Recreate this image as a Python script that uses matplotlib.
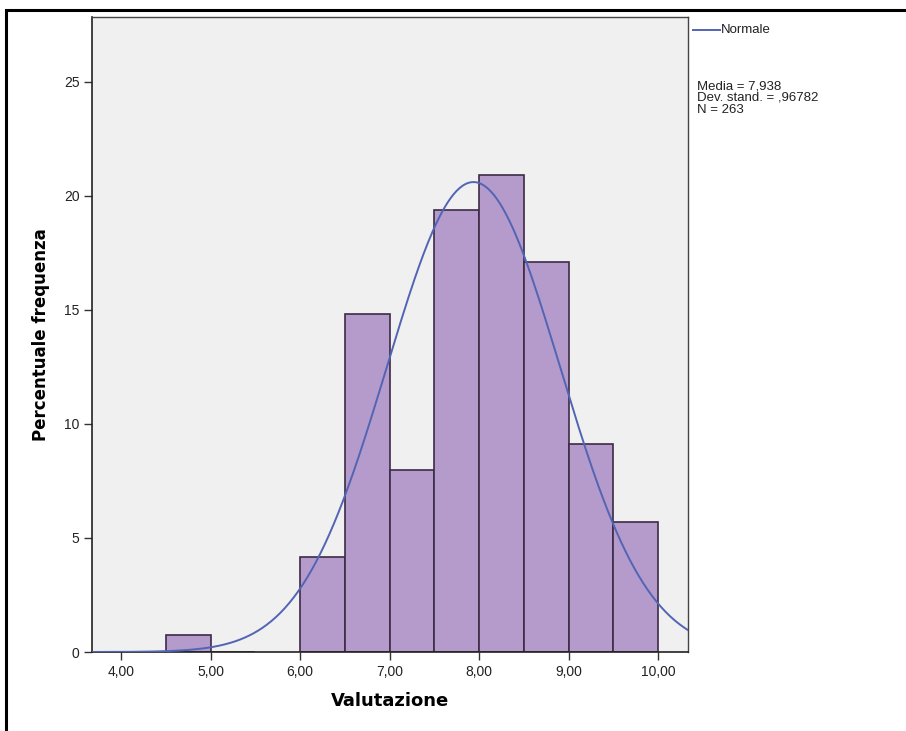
import numpy as np
import matplotlib
matplotlib.use("Agg")
import matplotlib.pyplot as plt
from matplotlib.patches import Rectangle

bin_edges = [4.5, 5.0, 6.0, 6.5, 7.0, 7.5, 8.0, 8.5, 9.0, 9.5]
bin_width = 0.5
percents = [0.76, 0.0, 4.18, 14.83, 7.98, 19.39, 20.91, 17.11, 9.13, 5.70]
mean_val = 7.938
sd_val = 0.96782
n_val = 263
xticks = [4, 5, 6, 7, 8, 9, 10]
xtick_labels = ["4,00", "5,00", "6,00", "7,00", "8,00", "9,00", "10,00"]
yticks = [0, 5, 10, 15, 20, 25]

fig = plt.figure(figsize=(9.06, 7.31), dpi=100)
fig.patch.set_facecolor("white")
# outer frame
fig.patches.append(Rectangle((6/906, -0.05), 1.2, 1 - 10/731 + 0.05, transform=fig.transFigure,
                             fill=False, edgecolor="black", linewidth=2.2, zorder=0))

ax = fig.add_axes([92/906, 1 - 652/731, 596/906, 635/731])
ax.set_facecolor("#F0F0F0")
ax.bar(bin_edges, percents, width=bin_width, align="edge", color="#B49BCB",
       edgecolor="#3B2B45", linewidth=1.2, zorder=2)

xs = np.linspace(3.676, 10.335, 400)
ys = 100 * bin_width * np.exp(-0.5 * ((xs - mean_val) / sd_val) ** 2) / (sd_val * np.sqrt(2 * np.pi))
ax.plot(xs, ys, color="#5264B4", linewidth=1.4, zorder=3)

ax.set_xlim(3.676, 10.335)
ax.set_ylim(0, 27.85)
ax.set_xticks(xticks)
ax.set_xticklabels(xtick_labels)
ax.set_yticks(yticks)
ax.tick_params(direction="out", length=6, width=1, color="#333333", labelsize=10,
               labelcolor="#222222", pad=3)
for lbl in ax.get_xticklabels() + ax.get_yticklabels():
    lbl.set_fontfamily("Liberation Sans")
for side in ["left", "bottom"]:
    ax.spines[side].set_color("#222222")
    ax.spines[side].set_linewidth(1.2)
for side in ["top", "right"]:
    ax.spines[side].set_color("#444444")
    ax.spines[side].set_linewidth(1.0)

ax.set_xlabel("Valutazione", fontsize=13, fontweight="bold", labelpad=10)
ax.set_ylabel("Percentuale frequenza", fontsize=12, fontweight="bold", labelpad=10)

# legend
fig.add_artist(plt.Line2D([693/906, 720/906], [1 - 30/731, 1 - 30/731],
                          color="#5264B4", linewidth=1.4, transform=fig.transFigure))
fig.text(721/906, 1 - 30/731, "Normale", fontsize=9.5, va="center", ha="left",
         color="#222222", family="Liberation Sans")
fig.text(697/906, 1 - 98/731,
         "Media = 7,938\nDev. stand. = ,96782\nN = %d" % n_val,
         fontsize=9.5, va="center", ha="left", color="#222222", linespacing=0.95,
         family="Liberation Sans")

fig.savefig("out.png", dpi=100, facecolor="white")
